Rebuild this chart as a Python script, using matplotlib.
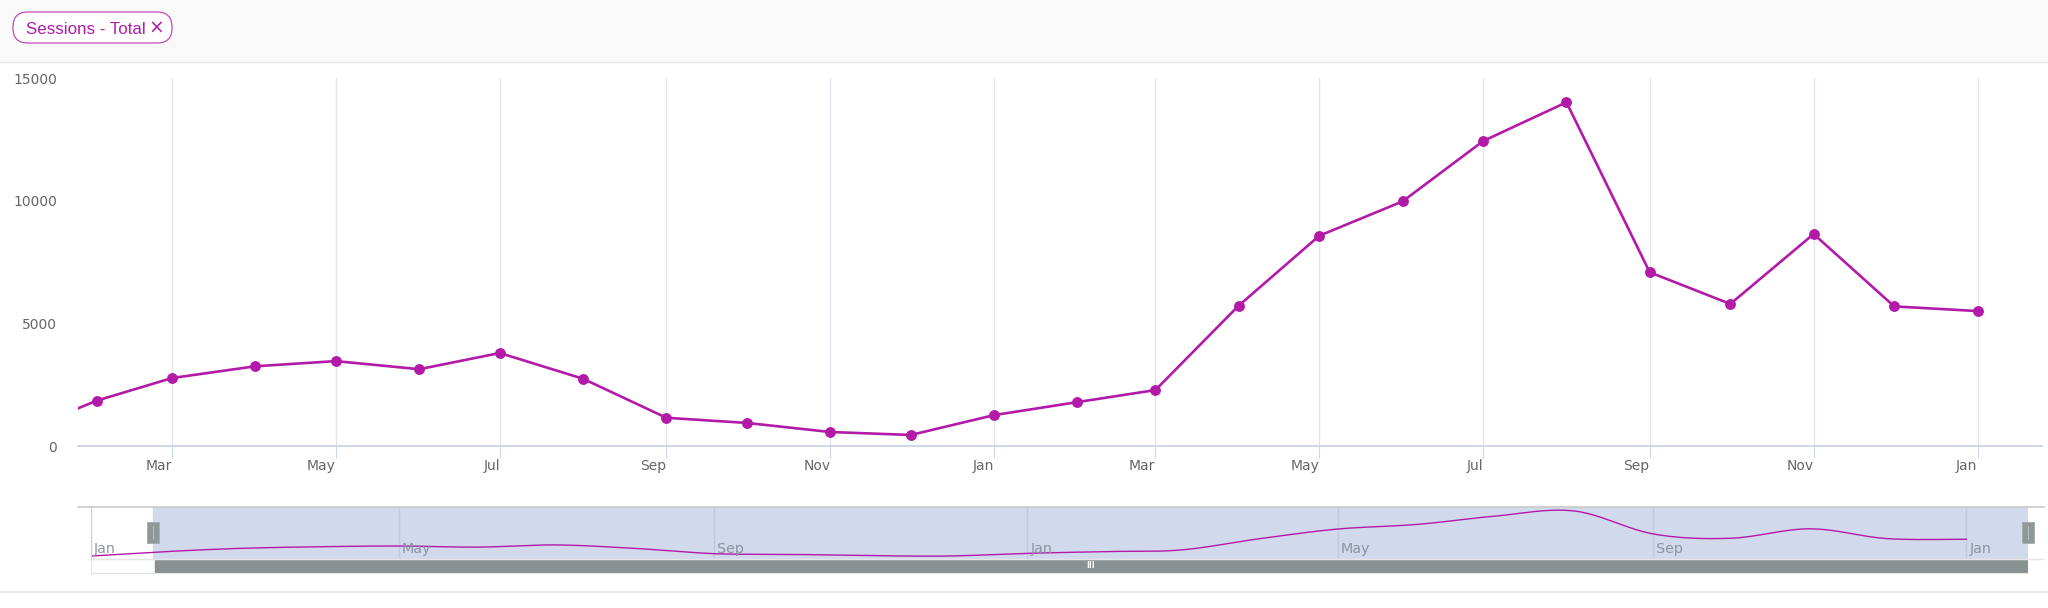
import numpy as np
import matplotlib
matplotlib.use("Agg")
import matplotlib.pyplot as plt
import matplotlib.dates as mdates
from matplotlib.patches import Rectangle, FancyBboxPatch
from matplotlib.lines import Line2D
from matplotlib.transforms import IdentityTransform, blended_transform_factory, ScaledTranslation

# monthly sessions, Jan 2019 .. Jan 2021
months = np.arange("2019-01", "2021-02", dtype="datetime64[M]").astype("datetime64[D]")
sessions = [450, 1850, 2770, 3250, 3460, 3130, 3790, 2740, 1150, 940, 570, 450,
            1260, 1790, 2280, 5720, 8570, 9970, 12430, 14010, 7080, 5790, 8640, 5690, 5500]
series_name = "Sessions - Total"

view_start = np.datetime64("2019-01-25")
view_end = np.datetime64("2021-01-25")
y_ticks = [0, 5000, 10000, 15000]
nav_ticks = np.array(["2019-01-01", "2019-05-01", "2019-09-01", "2020-01-01",
                      "2020-05-01", "2020-09-01", "2021-01-01"], dtype="datetime64[D]")

LINE = "#b31aa8"
W, H = 2048, 608


def box(x0, y0, x1, y1):
    return [x0 / W, 1 - y1 / H, (x1 - x0) / W, (y1 - y0) / H]


def fp(x, y):
    return x / W, 1 - y / H


fig = plt.figure(figsize=(W / 100, H / 100), dpi=100)
fig.patch.set_facecolor("white")

# header band with the legend pill
fig.patches.append(Rectangle((0, 1 - 62 / H), 1, 62 / H, transform=fig.transFigure,
                             facecolor="#f9f9f9", edgecolor="none", zorder=0))
fig.lines.append(Line2D([0, 1], [1 - 62 / H] * 2, transform=fig.transFigure,
                        color="#e6e6e6", lw=1))
pill = FancyBboxPatch((13, H - 43), 159, 31, boxstyle="round,pad=0,rounding_size=15",
                      transform=IdentityTransform(), facecolor="white",
                      edgecolor="#c44bbb", lw=0.9)
fig.patches.append(pill)
fig.text(*fp(26.5, 33.5), series_name, family="Liberation Sans", fontsize=12.2,
         color=LINE, ha="left", va="baseline")
fig.text(*fp(156, 33.5), "\u00d7", family="DejaVu Sans", fontsize=13.5,
         color=LINE, ha="center", va="baseline")

# main chart
ax = fig.add_axes(box(78, 78, 2042, 446))
x = mdates.date2num(months)
ax.plot(x, sessions, color=LINE, lw=1.9, marker="o", ms=6.8, mec=LINE, mfc=LINE,
        zorder=3, solid_joinstyle="round")
ax.set_xlim(mdates.date2num(view_start), mdates.date2num(view_end))
ax.set_ylim(0, 15000)
ax.set_yticks(y_ticks)
ax.xaxis.set_major_locator(mdates.MonthLocator(bymonth=(1, 3, 5, 7, 9, 11)))
ax.xaxis.set_major_formatter(mdates.DateFormatter("%b"))
ax.grid(axis="x", color="#e3e6ef", lw=1)
ax.set_axisbelow(True)
for s in ("top", "right", "left"):
    ax.spines[s].set_visible(False)
ax.spines["bottom"].set_color("#ccd6eb")
ax.spines["bottom"].set_linewidth(1.3)
ax.tick_params(axis="y", length=0, pad=15, labelsize=10, labelcolor="#666666")
ax.tick_params(axis="x", length=8.5, width=0.8, color="#ccd6eb", pad=1,
               labelsize=10, labelcolor="#666666")
for lab in ax.get_xticklabels():
    lab.set_ha("right")
for lab in ax.get_xticklabels() + ax.get_yticklabels():
    lab.set_family("DejaVu Sans")

# navigator
nav = fig.add_axes(box(91, 507, 2028, 559))
nav.set_facecolor("white")
nav.set_xlim(mdates.date2num(months[0]), mdates.date2num(view_end))
nav.set_ylim(-450, 15200)
nav.axvspan(mdates.date2num(view_start), mdates.date2num(view_end), color="#d1d9ec", zorder=0)
for t in nav_ticks:
    nav.axvline(mdates.date2num(t), color="#c2c9db", lw=1, zorder=1)

# smooth navigator series (Catmull-Rom through the monthly points)
px = np.concatenate([[x[0]], x, [x[-1]]])
py = np.concatenate([[sessions[0]], sessions, [sessions[-1]]]).astype(float)
sx, sy = [], []
t = np.linspace(0, 1, 24)
for i in range(1, len(px) - 2):
    for arr, out in ((px, sx), (py, sy)):
        p0, p1, p2, p3 = arr[i - 1], arr[i], arr[i + 1], arr[i + 2]
        out.extend(0.5 * (2 * p1 + (-p0 + p2) * t + (2 * p0 - 5 * p1 + 4 * p2 - p3) * t ** 2
                          + (-p0 + 3 * p1 - 3 * p2 + p3) * t ** 3))
nav.plot(sx, sy, color=LINE, lw=1.0, zorder=2)

lab_tr = blended_transform_factory(nav.transData, nav.transAxes) + \
    ScaledTranslation(3 / 100, 0, fig.dpi_scale_trans)
for t0 in nav_ticks:
    nav.text(mdates.date2num(t0), 0.19, t0.astype(object).strftime("%b"), transform=lab_tr,
             ha="left", va="center", fontsize=10.3, color="#8c93a4", family="DejaVu Sans")
nav.set_xticks([])
nav.set_yticks([])
for s in nav.spines.values():
    s.set_visible(False)
nav.spines["left"].set_visible(True)
nav.spines["left"].set_color("#d0d0d0")

fig.lines.append(Line2D([78 / W, 2044 / W], [1 - 507 / H] * 2, transform=fig.transFigure,
                        color="#c9c9c9", lw=1.2))
fig.lines.append(Line2D([91 / W, 2044 / W], [1 - 559 / H] * 2, transform=fig.transFigure,
                        color="#e6e6e6", lw=1))

# scrollbar
sb = fig.add_axes(box(91, 559, 2028, 573))
sb.set_xlim(nav.get_xlim())
sb.set_ylim(0, 1)
sb.set_facecolor("white")
sb.axvspan(mdates.date2num(view_start) + 1, mdates.date2num(view_end), 0.08, 0.95,
           color="#889292", zorder=1)
mid = (mdates.date2num(view_start) + mdates.date2num(view_end)) / 2
sb.text(mid, 0.5, "III", ha="center", va="center", color="white", fontsize=5.5,
        family="DejaVu Sans", fontweight="bold")
sb.set_xticks([])
sb.set_yticks([])
for s in sb.spines.values():
    s.set_color("#e6e6e6")
    s.set_linewidth(0.8)
sb.spines["right"].set_visible(False)

# navigator handles at the selection edges
for d in (view_start, view_end):
    xd = nav.transData.transform((mdates.date2num(d), 0))[0]
    fig.patches.append(Rectangle((xd - 6, H - 543), 12, 21, transform=IdentityTransform(),
                                 facecolor="#8e9898", edgecolor="#a5adad", lw=0.6, zorder=5))
    fig.lines.append(Line2D([xd, xd], [H - 539, H - 526], transform=IdentityTransform(),
                            color="#b4bbbb", lw=0.8, zorder=6))

# bottom border
fig.lines.append(Line2D([0, 1], [1 - 592 / H] * 2, transform=fig.transFigure,
                        color="#e6e6e6", lw=1.2))

fig.savefig("out.png", dpi=100)
